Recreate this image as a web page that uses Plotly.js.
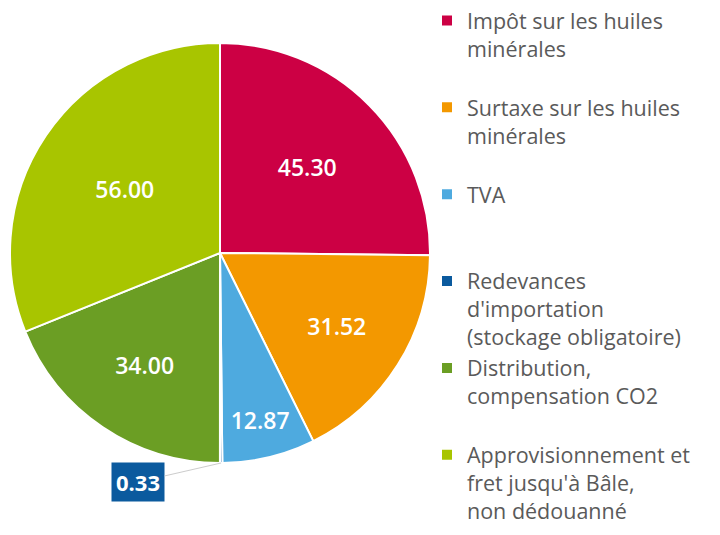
<!DOCTYPE html>
<html>
<head>
<meta charset="utf-8">
<script src="https://cdn.plot.ly/plotly-3.0.1.min.js"></script>
<style>html,body{margin:0;padding:0;background:#fff;}#chart{width:720px;height:535px;}</style>
</head>
<body>
<div id="chart"></div>
<script>
const categories = [
  "Impôt sur les huiles<br>minérales",
  "Surtaxe sur les huiles<br>minérales",
  "TVA",
  "Redevances<br>d'importation<br>(stockage obligatoire)",
  "Distribution,<br>compensation CO2",
  "Approvisionnement et<br>fret jusqu'à Bâle,<br>non dédouanné"
];
const values = [45.30, 31.52, 12.87, 0.33, 34.00, 56.00];
const colors = ["#cc0044", "#f39800", "#4eaadf", "#0b5a9e", "#6b9e24", "#a8c500"];
const textPositions = ["inside", "inside", "inside", "none", "inside", "inside"];

// pad every legend entry to the same number of lines so the entries are evenly spaced
const maxLines = Math.max(...categories.map(c => c.split("<br>").length));
const legendLabels = categories.map(c => {
  let n = c.split("<br>").length;
  let s = c;
  while (n < maxLines) { s += "<br> "; n++; }
  return s;
});

const W = 720, H = 535;
const dom = {x: [10 / W, 430 / W], y: [72 / H, 492 / H]};

// annotation for the tiny slice (outside label with a box)
const smallIdx = 3;
const total = values.reduce((a, b) => a + b, 0);
const before = values.slice(0, smallIdx).reduce((a, b) => a + b, 0);
const midAngle = (before + values[smallIdx] / 2) / total * 2 * Math.PI;
const cx = (dom.x[0] + dom.x[1]) / 2, cy = (dom.y[0] + dom.y[1]) / 2;
const rx = (dom.x[1] - dom.x[0]) / 2, ry = (dom.y[1] - dom.y[0]) / 2;
const tipX = cx + rx * Math.sin(midAngle);
const tipY = cy + ry * Math.cos(midAngle);

const trace = {
  type: "pie",
  labels: legendLabels,
  values: values,
  sort: false,
  direction: "clockwise",
  rotation: 0,
  domain: dom,
  marker: {colors: colors, line: {color: "#ffffff", width: 2}},
  texttemplate: "%{value:.2f}",
  textposition: textPositions,
  insidetextorientation: "horizontal",
  textfont: {family: "Open Sans", size: 23, color: "#ffffff", weight: 600},
  hoverinfo: "label+value"
};

const layout = {
  width: W, height: H,
  margin: {l: 0, r: 0, t: 0, b: 0},
  paper_bgcolor: "#ffffff",
  showlegend: true,
  legend: {
    x: 427 / W, xanchor: "left",
    y: 1, yanchor: "top",
    valign: "top",
    font: {family: "Open Sans", size: 21.5, color: "#5a5a5a"},
    bgcolor: "rgba(0,0,0,0)"
  },
  annotations: [{
    xref: "paper", yref: "paper",
    x: tipX, y: tipY,
    text: "<b>" + values[smallIdx].toFixed(2) + "</b>",
    showarrow: true, arrowhead: 0, arrowwidth: 1, arrowcolor: "#cccccc",
    ax: -83, ay: 19,
    bgcolor: "#0b5a9e", borderpad: 4,
    font: {family: "Open Sans", size: 22, color: "#ffffff"}
  }]
};

Plotly.newPlot("chart", [trace], layout, {displayModeBar: false, staticPlot: true});
</script>
</body>
</html>
